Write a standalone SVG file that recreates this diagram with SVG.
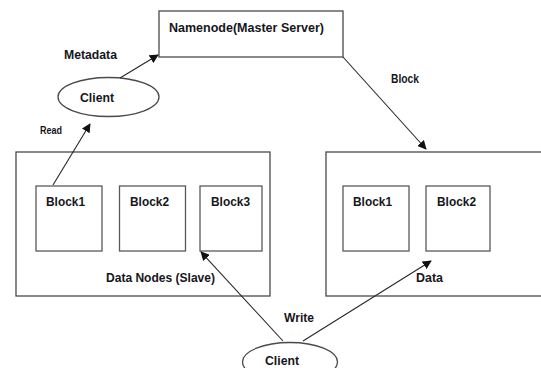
<svg xmlns="http://www.w3.org/2000/svg" width="541" height="368" viewBox="0 0 541 368">
<style>
.box{fill:#fff;stroke:#4a4a4a;stroke-width:1.3}
.blk{fill:#fff;stroke:#5a5a5a;stroke-width:1.3}
.t{font-family:"Liberation Sans",Arial,sans-serif;font-weight:bold;fill:#161620}
.c{stroke:#262626;stroke-width:1.1;fill:none;marker-end:url(#ah)}
</style>
<defs>
<marker id="ah" viewBox="0 0 10 10" refX="9" refY="5" markerWidth="9" markerHeight="9" markerUnits="userSpaceOnUse" orient="auto">
<path d="M0,0 L10,5 L0,10 z" fill="#111"/>
</marker>
</defs>
<rect width="541" height="368" fill="#fff"/>
<g id="namenode">
<rect class="box" x="159" y="11" width="184" height="46"/>
<text class="t" x="169" y="32" font-size="13.5" textLength="155" lengthAdjust="spacingAndGlyphs">Namenode(Master Server)</text>
</g>
<g id="client-read">
<ellipse class="box" cx="108.5" cy="97" rx="50.5" ry="19.5"/>
<text class="t" x="80" y="101.5" font-size="13.5" textLength="34" lengthAdjust="spacingAndGlyphs">Client</text>
</g>
<g id="datanodes">
<rect class="box" x="16" y="152" width="254" height="144"/>
<text class="t" x="106" y="281.5" font-size="12.5" textLength="109" lengthAdjust="spacingAndGlyphs">Data Nodes (Slave)</text>
</g>
<g id="dn-block1">
<rect class="blk" x="36" y="186" width="66" height="65"/>
<text class="t" x="46" y="205.5" font-size="12.5" textLength="39" lengthAdjust="spacingAndGlyphs">Block1</text>
</g>
<g id="dn-block2">
<rect class="blk" x="119.5" y="186" width="66" height="65"/>
<text class="t" x="130" y="205.5" font-size="12.5" textLength="39" lengthAdjust="spacingAndGlyphs">Block2</text>
</g>
<g id="dn-block3">
<rect class="blk" x="200" y="186" width="62" height="65"/>
<text class="t" x="211" y="205.5" font-size="12.5" textLength="39" lengthAdjust="spacingAndGlyphs">Block3</text>
</g>
<g id="data">
<rect class="box" x="326" y="152" width="225" height="144"/>
<text class="t" x="416" y="281.5" font-size="12.5" textLength="27" lengthAdjust="spacingAndGlyphs">Data</text>
</g>
<g id="d-block1">
<rect class="blk" x="343" y="186" width="66" height="65"/>
<text class="t" x="353" y="205.5" font-size="12.5" textLength="39" lengthAdjust="spacingAndGlyphs">Block1</text>
</g>
<g id="d-block2">
<rect class="blk" x="426" y="186" width="64" height="65"/>
<text class="t" x="437" y="205.5" font-size="12.5" textLength="39" lengthAdjust="spacingAndGlyphs">Block2</text>
</g>
<g id="client-write">
<ellipse class="box" cx="290" cy="362" rx="47.5" ry="19.5"/>
<text class="t" x="265" y="365" font-size="13.5" textLength="34" lengthAdjust="spacingAndGlyphs">Client</text>
</g>
<g id="connectors">
<line class="c" x1="120" y1="78" x2="158" y2="55"/>
<line class="c" x1="343" y1="57" x2="426" y2="149"/>
<line class="c" x1="53" y1="185" x2="90" y2="124"/>
<line class="c" x1="283" y1="341" x2="201" y2="252"/>
<line class="c" x1="303" y1="341" x2="431" y2="261"/>
</g>
<g id="labels">
<text class="t" x="64" y="59" font-size="12.5" textLength="53" lengthAdjust="spacingAndGlyphs">Metadata</text>
<text class="t" x="391" y="82.5" font-size="12.5" textLength="28" lengthAdjust="spacingAndGlyphs">Block</text>
<text class="t" x="40" y="134" font-size="10.5" font-weight="normal" textLength="22" lengthAdjust="spacingAndGlyphs">Read</text>
<text class="t" x="284" y="321.5" font-size="12.5" textLength="30" lengthAdjust="spacingAndGlyphs">Write</text>
</g>
</svg>
